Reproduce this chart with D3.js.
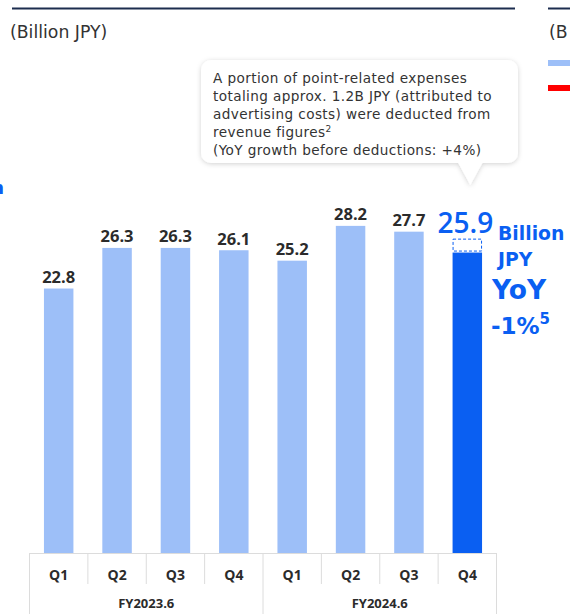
<!DOCTYPE html>
<html>
<head>
<meta charset="utf-8">
<script src="https://cdn.jsdelivr.net/npm/d3@7"></script>
<style>
  html, body { margin: 0; padding: 0; background: #fff; }
  svg { display: block; }
</style>
</head>
<body>
<svg id="chart" width="570" height="614"></svg>
<script>
// Quarterly revenue, billion JPY
const quarters = ["Q1", "Q2", "Q3", "Q4", "Q1", "Q2", "Q3", "Q4"];
const fiscalYears = ["FY2023.6", "FY2023.6", "FY2023.6", "FY2023.6", "FY2024.6", "FY2024.6", "FY2024.6", "FY2024.6"];
const revenue = [22.8, 26.3, 26.3, 26.1, 25.2, 28.2, 27.7, 25.9];
const deduction = [0, 0, 0, 0, 0, 0, 0, 1.2];
const yearGroups = ["FY2023.6", "FY2024.6"];
const noteLines = [
  "A portion of point-related expenses",
  "totaling approx. 1.2B JPY (attributed to",
  "advertising costs) were deducted from",
  "revenue figures",
  "(YoY growth before deductions: +4%)"
];

const svg = d3.select("#chart");
const lightBlue = "#9dbff8";
const blue = "#0a5ff2";
const textDark = "#2b2b2b";
const sansLabel = "'Open Sans', 'Noto Sans', sans-serif";
const sansWide = "'DejaVu Sans', 'Noto Sans', sans-serif";

const ids = revenue.map((d, i) => i);
const x = d3.scaleBand().domain(ids).range([29.5, 496.5]).paddingInner(0.495).paddingOuter(0.2475);
const y = d3.scaleLinear().domain([0, 30]).range([553, 205]);

// header rules and unit captions
svg.append("line").attr("x1", 12).attr("x2", 515).attr("y1", 8.5).attr("y2", 8.5)
  .attr("stroke", "#1c2d4f").attr("stroke-width", 2);
svg.append("line").attr("x1", 548).attr("x2", 570).attr("y1", 8.5).attr("y2", 8.5)
  .attr("stroke", "#1c2d4f").attr("stroke-width", 2);
svg.append("text").attr("x", 10).attr("y", 38).text("(Billion JPY)")
  .attr("font-family", sansWide).attr("font-size", 17.3).attr("fill", "#333");
svg.append("text").attr("x", 549).attr("y", 38).text("(B")
  .attr("font-family", sansWide).attr("font-size", 17.3).attr("fill", "#333");

// neighbouring legend swatches
svg.append("rect").attr("x", 548).attr("y", 60).attr("width", 22).attr("height", 6).attr("fill", lightBlue);
svg.append("rect").attr("x", 548).attr("y", 85).attr("width", 22).attr("height", 6).attr("fill", "#ff0000");

// clipped label from the neighbouring panel
svg.append("text").attr("x", 4).attr("y", 194).attr("text-anchor", "end").text("Billion")
  .attr("font-family", sansWide).attr("font-weight", 700).attr("font-size", 18).attr("fill", blue);

// bars
svg.append("g").selectAll("rect").data(ids).join("rect")
  .attr("x", i => x(i))
  .attr("width", x.bandwidth())
  .attr("y", i => y(revenue[i]))
  .attr("height", i => y(0) - y(revenue[i]))
  .attr("fill", (i) => i === revenue.length - 1 ? blue : lightBlue);

// dashed outline for the deducted amount
svg.append("g").selectAll("rect").data(ids.filter(i => deduction[i] > 0)).join("rect")
  .attr("x", i => x(i) + 0.5)
  .attr("width", x.bandwidth() - 1)
  .attr("y", i => y(revenue[i] + deduction[i]) + 0.5)
  .attr("height", i => y(revenue[i]) - y(revenue[i] + deduction[i]) - 2)
  .attr("fill", "#fff")
  .attr("stroke", blue).attr("stroke-width", 1).attr("stroke-dasharray", "3,2");

// value labels
const last = revenue.length - 1;
svg.append("g").selectAll("text").data(ids.filter(i => i !== last)).join("text")
  .attr("x", i => x(i) + x.bandwidth() / 2)
  .attr("y", i => y(revenue[i]) - 5.5)
  .attr("text-anchor", "middle")
  .attr("font-family", sansLabel).attr("font-weight", 700).attr("font-size", 16.5)
  .attr("fill", textDark)
  .text(i => revenue[i].toFixed(1));

svg.append("text")
  .attr("x", x(last) + x.bandwidth() / 2 - 2)
  .attr("y", y(revenue[last] + deduction[last]) - 6)
  .attr("text-anchor", "middle")
  .attr("font-family", sansLabel).attr("font-weight", 600).attr("font-size", 28)
  .attr("fill", blue)
  .text(revenue[last].toFixed(1));

// unit and YoY annotation
const ann = svg.append("g").attr("font-family", sansWide).attr("font-weight", 700).attr("fill", blue);
ann.append("text").attr("x", 498).attr("y", 240).attr("font-size", 18.8).text("Billion");
ann.append("text").attr("x", 498).attr("y", 266).attr("font-size", 18.8).text("JPY");
ann.append("text").attr("x", 492).attr("y", 299).attr("font-size", 26.5).text("YoY");
const yoy = ann.append("text").attr("x", 491).attr("y", 334).attr("font-size", 23);
yoy.append("tspan").text("-1%");
yoy.append("tspan").attr("dy", -10).attr("font-size", 15).text("5");

// category table under the bars
const table = svg.append("g");
const cellW = x.step();
const left = x.range()[0];
const right = x.range()[1];
const tStroke = "#dcdcdc";
table.append("line").attr("x1", left).attr("x2", right).attr("y1", 553.5).attr("y2", 553.5).attr("stroke", tStroke);
ids.concat([ids.length]).forEach(i => {
  const xx = left + i * cellW;
  const full = (i === 0 || i === 4 || i === 8);
  table.append("line").attr("x1", xx).attr("x2", xx).attr("y1", 553).attr("y2", full ? 614 : 584)
    .attr("stroke", tStroke);
});
table.selectAll("text.q").data(ids).join("text").attr("class", "q")
  .attr("x", i => x(i) + x.bandwidth() / 2)
  .attr("y", 580)
  .attr("text-anchor", "middle")
  .attr("font-family", sansLabel).attr("font-weight", 700).attr("font-size", 14)
  .attr("fill", textDark)
  .text(i => quarters[i]);
table.selectAll("text.fy").data(yearGroups).join("text").attr("class", "fy")
  .attr("x", g => {
    const idx = ids.filter(i => fiscalYears[i] === g);
    return (x(idx[0]) + x(idx[idx.length - 1]) + x.bandwidth()) / 2;
  })
  .attr("y", 608)
  .attr("text-anchor", "middle")
  .attr("font-family", sansLabel).attr("font-weight", 700).attr("font-size", 13)
  .attr("fill", textDark)
  .text(g => g);

// callout bubble
const defs = svg.append("defs");
const f = defs.append("filter").attr("id", "shadow").attr("x", "-10%").attr("y", "-10%").attr("width", "120%").attr("height", "130%");
f.append("feDropShadow").attr("dx", 0).attr("dy", 1).attr("stdDeviation", 2.5).attr("flood-color", "#000").attr("flood-opacity", 0.18);

const bx = 201, by = 60, bw = 317, bh = 103, r = 10;
const tipX = x(last) + x.bandwidth() / 2 + 3, tipY = 185;
const p = d3.path();
p.moveTo(bx + r, by);
p.lineTo(bx + bw - r, by);
p.arcTo(bx + bw, by, bx + bw, by + r, r);
p.lineTo(bx + bw, by + bh - r);
p.arcTo(bx + bw, by + bh, bx + bw - r, by + bh, r);
p.lineTo(tipX + 12, by + bh);
p.lineTo(tipX, tipY);
p.lineTo(tipX - 12, by + bh);
p.lineTo(bx + r, by + bh);
p.arcTo(bx, by + bh, bx, by + bh - r, r);
p.lineTo(bx, by + r);
p.arcTo(bx, by, bx + r, by, r);
p.closePath();
svg.append("path").attr("d", p.toString()).attr("fill", "#fff").attr("filter", "url(#shadow)");

const note = svg.append("text").attr("font-family", sansWide).attr("font-size", 13.6)
  .attr("letter-spacing", 0.4).attr("fill", "#333");
noteLines.forEach((line, i) => {
  note.append("tspan").attr("x", 213).attr("y", 83 + i * 18).text(line);
  if (i === 3) {
    note.append("tspan").attr("dy", -5).attr("font-size", 9).text("2");
  }
});
</script>
</body>
</html>
